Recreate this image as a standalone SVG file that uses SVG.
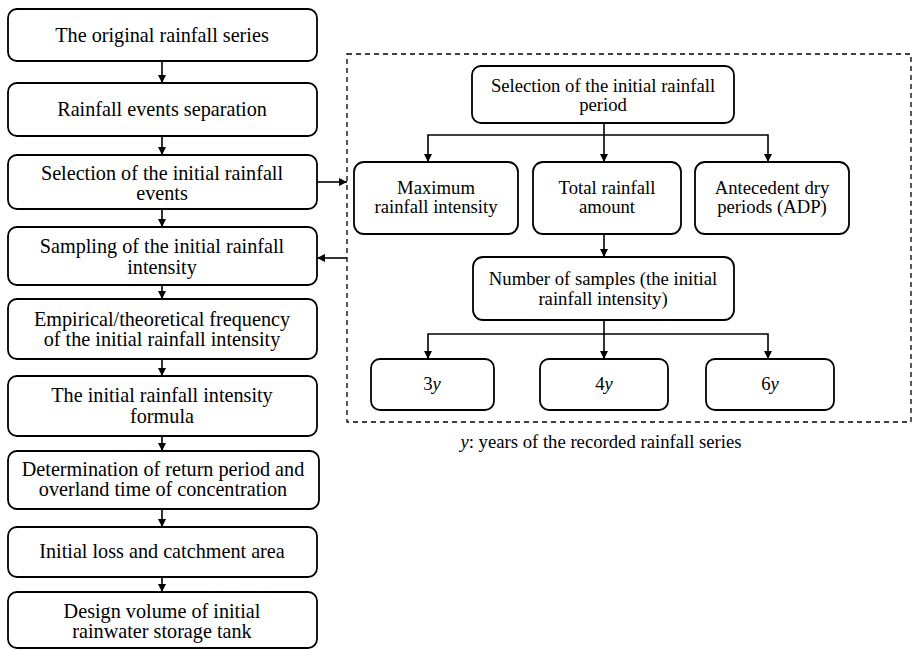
<svg xmlns="http://www.w3.org/2000/svg" width="912" height="650" viewBox="0 0 912 650">
<defs>
<marker id="ah" viewBox="0 0 10 10" refX="10" refY="5" markerWidth="8" markerHeight="8" markerUnits="userSpaceOnUse" orient="auto"><path d="M0,0 L10,5 L0,10 Z" fill="#000"/></marker>
<style>
.b{fill:#fff;stroke:#000;stroke-width:1.8}
.t{font-family:"Liberation Serif","Times New Roman",serif;font-size:18.7px;fill:#000;text-anchor:middle}
.l{font-size:20.2px}
.a{fill:none;stroke:#000;stroke-width:1.6;marker-end:url(#ah)}
</style>
</defs>
<rect width="912" height="650" fill="#fff"/>
<rect x="347" y="54" width="564" height="368" fill="none" stroke="#000" stroke-width="1.3" stroke-dasharray="5,4"/>
<g id="connectors">
<line class="a" x1="162" y1="61" x2="162" y2="83"/>
<line class="a" x1="162" y1="136" x2="162" y2="155"/>
<line class="a" x1="162" y1="209" x2="162" y2="227"/>
<line class="a" x1="162" y1="285" x2="162" y2="299"/>
<line class="a" x1="162" y1="359" x2="162" y2="376"/>
<line class="a" x1="162" y1="436" x2="162" y2="451"/>
<line class="a" x1="162" y1="509" x2="162" y2="527"/>
<line class="a" x1="162" y1="577" x2="162" y2="592"/>
<line class="a" x1="317" y1="182" x2="347" y2="182"/>
<line class="a" x1="347" y1="258" x2="317" y2="258"/>
<line class="a" x1="604" y1="123" x2="604" y2="162"/>
<polyline class="a" points="604,135 428,135 428,162"/>
<polyline class="a" points="604,135 768,135 768,162"/>
<line class="a" x1="604" y1="234" x2="604" y2="257"/>
<line class="a" x1="604" y1="320" x2="604" y2="359"/>
<polyline class="a" points="604,334 428,334 428,359"/>
<polyline class="a" points="604,334 768,334 768,359"/>
</g>
<g id="n1"><rect class="b" x="8" y="9" width="309" height="52" rx="9"/><text class="t l" x="162" y="42">The original rainfall series</text></g>
<g id="n2"><rect class="b" x="8" y="83" width="309" height="53" rx="9"/><text class="t l" x="162" y="116">Rainfall events separation</text></g>
<g id="n3"><rect class="b" x="8" y="155" width="309" height="54" rx="9"/><text class="t l" x="162" y="179.5">Selection of the initial rainfall</text><text class="t l" x="162" y="200">events</text></g>
<g id="n4"><rect class="b" x="8" y="227" width="309" height="58" rx="9"/><text class="t l" x="162" y="253">Sampling of the initial rainfall</text><text class="t l" x="162" y="273.5">intensity</text></g>
<g id="n5"><rect class="b" x="8" y="299" width="309" height="60" rx="9"/><text class="t l" x="162" y="325.5">Empirical/theoretical frequency</text><text class="t l" x="162" y="346">of the initial rainfall intensity</text></g>
<g id="n6"><rect class="b" x="8" y="376" width="309" height="60" rx="9"/><text class="t l" x="162" y="402">The initial rainfall intensity</text><text class="t l" x="162" y="422.5">formula</text></g>
<g id="n7"><rect class="b" x="8" y="451" width="311" height="58" rx="9"/><text class="t l" x="163" y="475.5">Determination of return period and</text><text class="t l" x="163" y="496">overland time of concentration</text></g>
<g id="n8"><rect class="b" x="8" y="527" width="309" height="50" rx="9"/><text class="t l" x="162" y="558">Initial loss and catchment area</text></g>
<g id="n9"><rect class="b" x="8" y="592" width="309" height="56" rx="9"/><text class="t l" x="162" y="617.5">Design volume of initial</text><text class="t l" x="162" y="638">rainwater storage tank</text></g>
<g id="r1"><rect class="b" x="472" y="66" width="262" height="57" rx="9"/><text class="t" x="603" y="92">Selection of the initial rainfall</text><text class="t" x="603" y="111">period</text></g>
<g id="r2"><rect class="b" x="354" y="162" width="164" height="72" rx="10"/><text class="t" x="436" y="194">Maximum</text><text class="t" x="436" y="213">rainfall intensity</text></g>
<g id="r3"><rect class="b" x="533" y="162" width="148" height="72" rx="10"/><text class="t" x="607" y="194">Total rainfall</text><text class="t" x="607" y="213">amount</text></g>
<g id="r4"><rect class="b" x="695" y="162" width="154" height="72" rx="10"/><text class="t" x="772" y="194">Antecedent dry</text><text class="t" x="772" y="213">periods (ADP)</text></g>
<g id="r5"><rect class="b" x="473" y="257" width="261" height="63" rx="10"/><text class="t" x="603" y="285">Number of samples (the initial</text><text class="t" x="603" y="305">rainfall intensity)</text></g>
<g id="r6"><rect class="b" x="371" y="359" width="123" height="51" rx="9"/><text class="t" x="432" y="390">3<tspan font-style="italic">y</tspan></text></g>
<g id="r7"><rect class="b" x="540" y="359" width="128" height="51" rx="9"/><text class="t" x="604" y="390">4<tspan font-style="italic">y</tspan></text></g>
<g id="r8"><rect class="b" x="706" y="359" width="128" height="51" rx="9"/><text class="t" x="770" y="390">6<tspan font-style="italic">y</tspan></text></g>
<text class="t" x="601" y="448"><tspan font-style="italic">y</tspan>: years of the recorded rainfall series</text>
</svg>
